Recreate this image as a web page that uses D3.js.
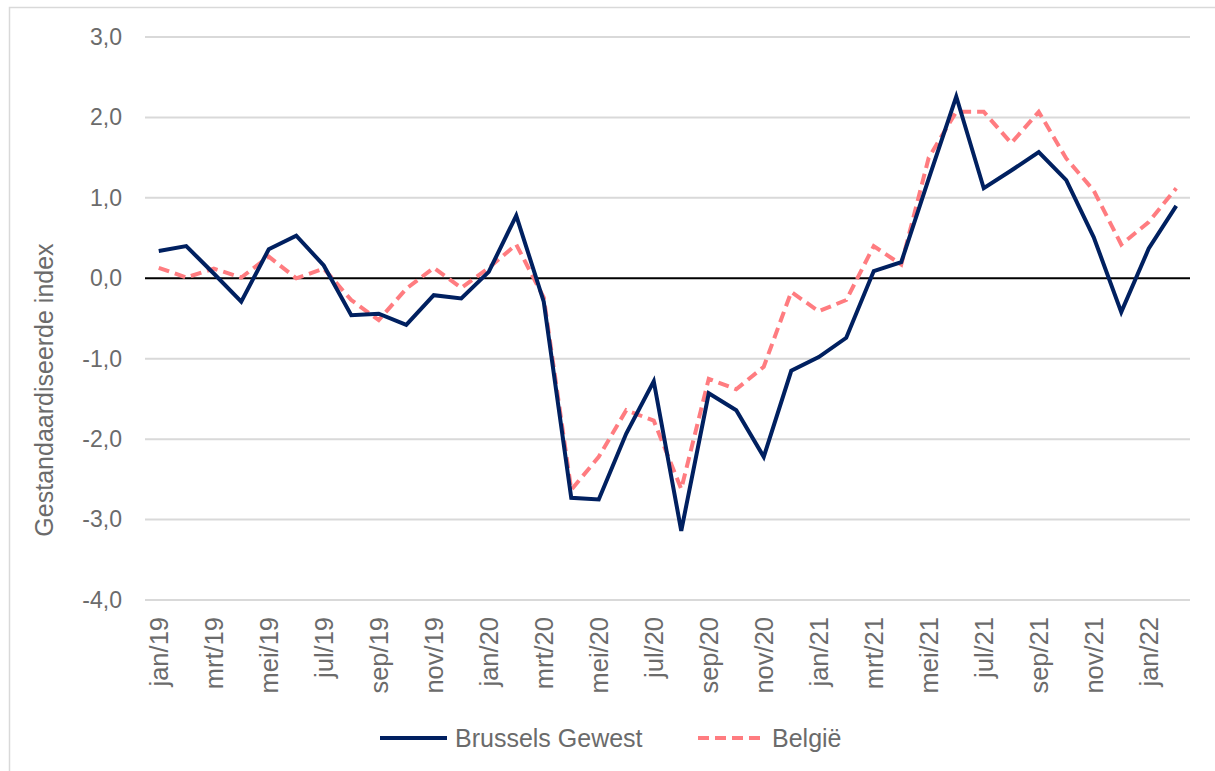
<!DOCTYPE html>
<html><head><meta charset="utf-8">
<script src="https://cdn.jsdelivr.net/npm/d3@7"></script>
<style>body{margin:0;background:#fff;} text{font-family:"Liberation Sans",Arial,sans-serif;fill:#6b6b6b;}</style>
</head><body>
<svg id="c" width="1215" height="771"></svg>
<script>
const months = ["jan/19","feb/19","mrt/19","apr/19","mei/19","jun/19","jul/19","aug/19","sep/19","okt/19","nov/19","dec/19",
"jan/20","feb/20","mrt/20","apr/20","mei/20","jun/20","jul/20","aug/20","sep/20","okt/20","nov/20","dec/20",
"jan/21","feb/21","mrt/21","apr/21","mei/21","jun/21","jul/21","aug/21","sep/21","okt/21","nov/21","dec/21",
"jan/22","feb/22"];
const brussels = [0.34,0.40,0.06,-0.29,0.36,0.53,0.16,-0.46,-0.44,-0.58,-0.21,-0.25,
0.08,0.78,-0.29,-2.73,-2.75,-1.93,-1.28,-3.14,-1.43,-1.64,-2.22,-1.15,
-0.98,-0.74,0.09,0.20,1.24,2.26,1.12,1.34,1.57,1.22,0.51,-0.42,
0.37,0.90];
const belgie = [0.13,0.01,0.12,0.01,0.27,0.00,0.12,-0.27,-0.52,-0.13,0.13,-0.12,
0.13,0.42,-0.24,-2.63,-2.22,-1.64,-1.77,-2.62,-1.25,-1.38,-1.10,-0.17,
-0.41,-0.27,0.40,0.17,1.50,2.07,2.07,1.68,2.07,1.49,1.09,0.42,
0.70,1.12];
const yTicks = [3,2,1,0,-1,-2,-3,-4];
const seriesNames = ["Brussels Gewest","België"];

const svg = d3.select("#c");
svg.append("rect").attr("x",9.5).attr("y",7.5).attr("width",1220).attr("height",780)
  .attr("fill","none").attr("stroke","#d9d9d9").attr("stroke-width",1.5);

const x = d3.scaleBand().domain(months).range([145,1190]);
const y = d3.scaleLinear().domain([-4,3]).range([600,37]);
const fmt = v => d3.format(".1f")(v).replace(".",",").replace("\u2212","-");

// gridlines
svg.append("g").selectAll("line").data(yTicks.filter(d=>d!==0)).join("line")
  .attr("x1",145).attr("x2",1190).attr("y1",d=>y(d)).attr("y2",d=>y(d))
  .attr("stroke","#d9d9d9").attr("stroke-width",2);

// y axis labels
const yAxis = d3.axisLeft(y).tickValues(yTicks).tickFormat(fmt).tickSize(0).tickPadding(23);
const gy = svg.append("g").attr("transform","translate(145,0)").call(yAxis);
gy.select(".domain").remove();
gy.selectAll("text").style("font-size","23px").attr("fill","#6b6b6b").style("font-family","Liberation Sans, Arial, sans-serif");

// x axis labels
const xAxis = d3.axisBottom(x).tickValues(months.filter((d,i)=>i%2===0)).tickSize(0);
const gx = svg.append("g").attr("transform","translate(0,600)").call(xAxis);
gx.select(".domain").remove();
gx.selectAll("text").style("font-size","25.5px").attr("fill","#6b6b6b").style("font-family","Liberation Sans, Arial, sans-serif")
  .attr("transform","rotate(-90)").attr("text-anchor","end").attr("x",-17).attr("y",0).attr("dy","0.35em");

// zero line
svg.append("line").attr("x1",145).attr("x2",1190).attr("y1",y(0)).attr("y2",y(0))
  .attr("stroke","#000").attr("stroke-width",2);

const line = d3.line().x((d,i)=>x(months[i])+x.bandwidth()/2).y(d=>y(d));
svg.append("path").datum(belgie).attr("d",line).attr("fill","none")
  .attr("stroke","#ff7c80").attr("stroke-width",4).attr("stroke-dasharray","11,6");
svg.append("path").datum(brussels).attr("d",line).attr("fill","none")
  .attr("stroke","#002060").attr("stroke-width",4).attr("stroke-linejoin","miter");

// y title
svg.append("text").attr("transform","translate(53,390) rotate(-90)").attr("text-anchor","middle")
  .style("font-size","25px").text("Gestandaardiseerde index");

// legend
const leg = svg.append("g");
leg.append("line").attr("x1",380).attr("x2",447).attr("y1",738).attr("y2",738)
  .attr("stroke","#002060").attr("stroke-width",4);
leg.append("text").attr("x",455).attr("y",738).attr("dy","0.35em").style("font-size","25px").text(seriesNames[0]);
leg.append("line").attr("x1",698).attr("x2",765).attr("y1",738).attr("y2",738)
  .attr("stroke","#ff7c80").attr("stroke-width",4).attr("stroke-dasharray","11,6");
leg.append("text").attr("x",772).attr("y",738).attr("dy","0.35em").style("font-size","25px").text(seriesNames[1]);
</script>
</body></html>
